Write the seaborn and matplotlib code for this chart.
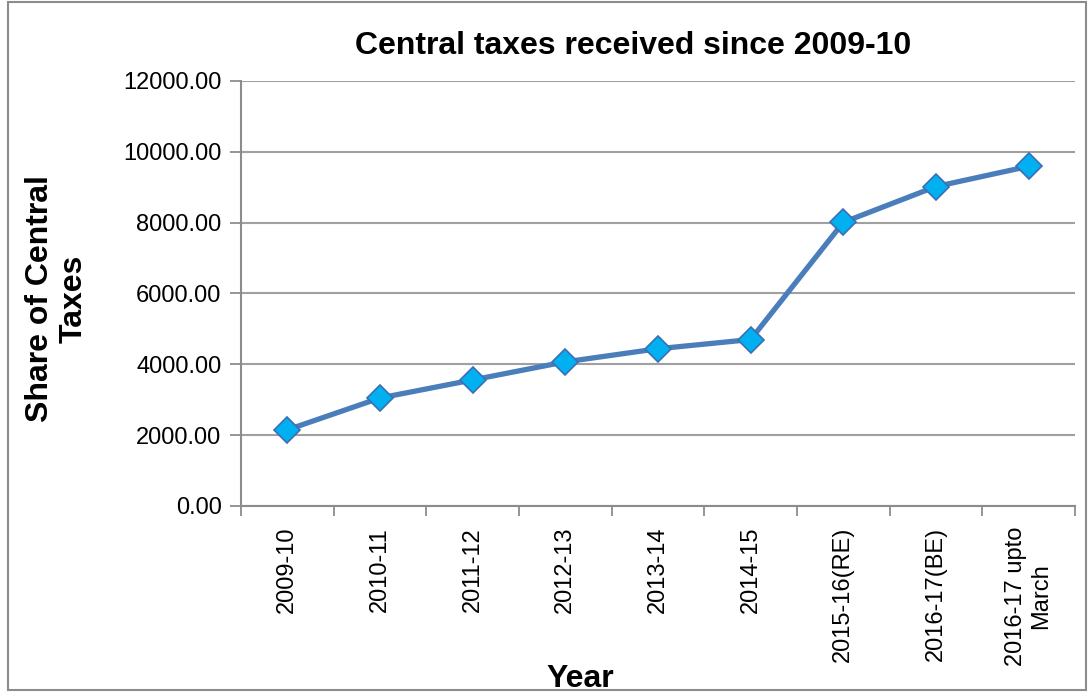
import matplotlib
matplotlib.use("Agg")
import matplotlib.pyplot as plt
from matplotlib.patches import Rectangle
from matplotlib.ticker import FixedLocator, FuncFormatter
import seaborn as sns
import pandas as pd

# data
years = ['2009-10', '2010-11', '2011-12', '2012-13', '2013-14', '2014-15',
         '2015-16(RE)', '2016-17(BE)', '2016-17 upto\nMarch']
share = [2150, 3050, 3560, 4070, 4440, 4700, 8010, 9020, 9590]
y_ticks = [0, 2000, 4000, 6000, 8000, 10000, 12000]

df = pd.DataFrame({'Year': years, 'Share': share})

sns.set_style('white')
plt.rcParams['font.family'] = ['Liberation Sans', 'DejaVu Sans']
plt.rcParams['text.color'] = 'black'
plt.rcParams['xtick.labelcolor'] = 'black'
plt.rcParams['ytick.labelcolor'] = 'black'

fig = plt.figure(figsize=(10.92, 6.94), dpi=100)
ax = fig.add_axes([0.2207, 0.2709, 0.7637, 0.6124])

# outer chart border
fig.patches.append(Rectangle((8 / 1092, 4 / 694), 1078 / 1092, 688 / 694,
                             transform=fig.transFigure, fill=False,
                             edgecolor='#8c8c8c', linewidth=1.5))

sns.lineplot(data=df, x='Year', y='Share', ax=ax, sort=False,
             color='#4a7ebb', linewidth=3.8, marker='D', markersize=13,
             markerfacecolor='#00b0f0', markeredgecolor='#3c6eb4',
             markeredgewidth=1.2)

ax.set_xlim(-0.5, len(years) - 0.5)
ax.set_ylim(0, 12000)
ax.yaxis.set_major_locator(FixedLocator(y_ticks))
ax.yaxis.set_major_formatter(FuncFormatter(lambda v, p: f'{v:.2f}'))
ax.grid(axis='y', color='#a0a0a0', linewidth=1.5)
ax.set_axisbelow(True)

ax.set_xticks(range(len(years)))
ax.set_xticklabels(years, rotation=90, fontsize=17, va='top', ha='center',
                   multialignment='center', color='black')
ax.set_xticks([i - 0.5 for i in range(len(years) + 1)], minor=True)
ax.tick_params(axis='x', which='major', length=0, pad=15)
ax.tick_params(axis='x', which='minor', length=7, width=1.3, color='#8c8c8c',
               direction='out', bottom=True)
ax.tick_params(axis='y', length=8, width=1.3, color='#8c8c8c',
               direction='out', left=True, labelsize=17, pad=6)

for s in ['top', 'right']:
    ax.spines[s].set_visible(False)
for s in ['left', 'bottom']:
    ax.spines[s].set_color('#8c8c8c')
    ax.spines[s].set_linewidth(1.5)

ax.set_xlabel('')
ax.set_ylabel('')
fig.text(0.58, 0.933, 'Central taxes received since 2009-10', fontsize=23,
         fontweight='bold', ha='center', va='center', color='black')
fig.text(0.052, 0.57, 'Share of Central\nTaxes', fontsize=23, fontweight='bold',
         rotation=90, ha='center', va='center', multialignment='center',
         color='black', linespacing=1.15)
fig.text(0.531, 0.022, 'Year', fontsize=23, fontweight='bold',
         ha='center', va='center', color='black')

fig.savefig('out.png', dpi=100)
